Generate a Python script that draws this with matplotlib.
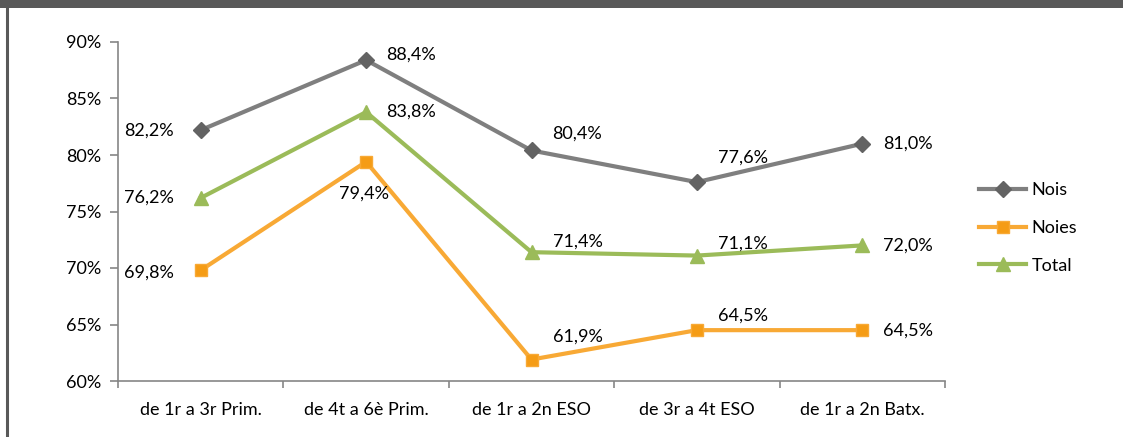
import matplotlib
matplotlib.use("Agg")
import matplotlib.pyplot as plt
from matplotlib.patches import Rectangle
from matplotlib.lines import Line2D

categories = ["de 1r a 3r Prim.", "de 4t a 6è Prim.", "de 1r a 2n ESO",
              "de 3r a 4t ESO", "de 1r a 2n Batx."]
nois = [82.2, 88.4, 80.4, 77.6, 81.0]
noies = [69.8, 79.4, 61.9, 64.5, 64.5]
total = [76.2, 83.8, 71.4, 71.1, 72.0]
y_ticks = [60, 65, 70, 75, 80, 85, 90]

plt.rcParams['font.family'] = ['Lato', 'DejaVu Sans']

W, H = 1123, 437
FS = 13
fig = plt.figure(figsize=(W / 100, H / 100), dpi=100)
ax = fig.add_axes([118 / W, 1 - 381 / H, (945 - 118) / W, (381 - 42) / H])

# frame elements: dark title bar and left border
fig.patches.append(Rectangle((0, 1 - 8 / H), 1, 8 / H, transform=fig.transFigure,
                             facecolor="#595959", edgecolor="none", zorder=0))
fig.add_artist(Line2D([7 / W, 7 / W], [0, 1 - 8 / H], transform=fig.transFigure,
                      color="#595959", lw=2.2))

x = list(range(len(categories)))
c_nois, c_nois_m = "#7f7f7f", "#636363"
c_noies, c_noies_m = "#f8a935", "#f59c15"
c_total, c_total_m = "#9bbb59", "#9bbb59"

ax.plot(x, nois, color=c_nois, lw=3.0, marker="D", ms=8, mfc=c_nois_m,
        mec=c_nois_m, label="Nois", zorder=3)
ax.plot(x, noies, color=c_noies, lw=3.0, marker="s", ms=9, mfc=c_noies_m,
        mec=c_noies, label="Noies", zorder=3)
ax.plot(x, total, color=c_total, lw=3.0, marker="^", ms=10, mfc=c_total_m,
        mec=c_total_m, label="Total", zorder=3)

ax.set_xlim(-0.5, len(categories) - 0.5)
ax.set_ylim(60, 90)
ax.set_yticks(y_ticks)
ax.set_yticklabels([f"{v}%" for v in y_ticks])
ax.set_xticks(x)
ax.set_xticklabels(categories)
ax.set_xticks([i - 0.5 for i in range(len(categories) + 1)], minor=True)

axis_col = "#868686"
for s in ["top", "right"]:
    ax.spines[s].set_visible(False)
for s in ["left", "bottom"]:
    ax.spines[s].set_color(axis_col)
    ax.spines[s].set_linewidth(1.2)
ax.tick_params(axis="x", which="major", length=0, pad=15, labelsize=FS, colors="black")
ax.tick_params(axis="x", which="minor", length=5, width=1.2, color=axis_col)
ax.tick_params(axis="y", length=6, width=1.2, color=axis_col, labelsize=FS,
               labelcolor="black", pad=6)


def lab(v):
    return f"{v:.1f}%".replace(".", ",")


# label placement (pixel offsets, alignment) per series point
place_nois = [(-27, 0, "right"), (20, 5, "left"), (21, 17, "left"),
              (21, 24, "left"), (21, 0, "left")]
place_total = [(-27, 0, "right"), (20, 0, "left"), (21, 11, "left"),
               (21, 12, "left"), (21, 0, "left")]
place_noies = [(-27, -2, "right"), (-2, -32, "center"), (21, 23, "left"),
               (21, 15, "left"), (21, 0, "left")]

for series, places in [(nois, place_nois), (total, place_total), (noies, place_noies)]:
    for xi, v, (dx, dy, ha) in zip(x, series, places):
        ax.annotate(lab(v), (xi, v), xytext=(dx, dy), textcoords="offset pixels",
                    ha=ha, va="center", fontsize=FS, color="black", zorder=4)

leg = fig.legend(loc="upper left", bbox_to_anchor=(972 / W, 1 - 175 / H),
                 frameon=False, fontsize=FS, handlelength=2.6,
                 labelspacing=1.2, handletextpad=0.3, borderaxespad=0)

fig.savefig("out.png", dpi=100)
